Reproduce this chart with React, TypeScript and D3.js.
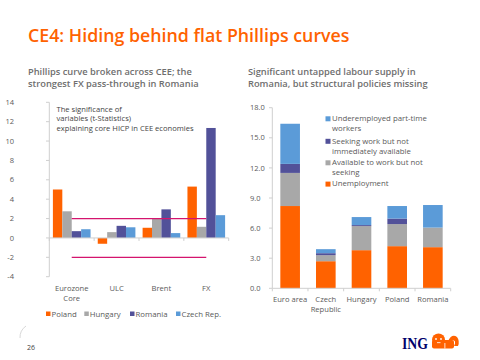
import React from "react";
import * as d3 from "d3";

// left chart: t-statistics
const factors = ["Eurozone Core", "ULC", "Brent", "FX"];
const countries = ["Poland", "Hungary", "Romania", "Czech Rep."];
const poland = [5.0, -0.6, 1.05, 5.3];
const hungary = [2.75, 0.6, 2.05, 1.15];
const romania = [0.7, 1.25, 2.95, 11.35];
const czech = [0.9, 1.1, 0.5, 2.35];
const thresholds = [2, -2];
const leftTicks = [-4, -2, 0, 2, 4, 6, 8, 10, 12, 14];

// right chart: labour slack
const regions = ["Euro area", "Czech Republic", "Hungary", "Poland", "Romania"];
const unemployment = [8.2, 2.7, 3.8, 4.2, 4.1];
const availableNotSeeking = [3.3, 0.6, 2.4, 2.2, 1.95];
const seekingNotAvailable = [0.9, 0.2, 0.1, 0.55, 0.0];
const underemployed = [4.0, 0.4, 0.8, 1.25, 2.25];
const rightTicks = [0, 3, 6, 9, 12, 15, 18];

const ORANGE = "#ff6200";
const GREY = "#a8a8a8";
const PURPLE = "#525199";
const BLUE = "#5b9bd8";
const TXT = "#5a5a5a";
const AXIS = "#cfcfcf";
const FONT = "'Open Sans', sans-serif";

const countryColors = [ORANGE, GREY, PURPLE, BLUE];
const seriesByCountry = [poland, hungary, romania, czech];

function LeftChart() {
  const x0 = d3.scaleBand<string>().domain(factors).range([49.3, 228.7]);
  const step = x0.step();
  const x1 = d3.scaleBand<string>().domain(countries).range([3.6, step - 3.6]);
  const y = d3.scaleLinear().domain([-4, 14]).range([276.7, 102.3]);
  const bounds = factors.map((f) => x0(f)!).concat([x0.range()[1]]);
  const lineX1 = x0(factors[0])! + step / 2;
  const lineX2 = x0(factors[factors.length - 1])! + step / 2;
  const legendX = [46, 84.3, 130, 176];
  return (
    <g fontFamily={FONT}>
      <line x1={49.3} x2={49.3} y1={y(14)} y2={y(-4)} stroke={AXIS} />
      {leftTicks.map((t) => (
        <g key={t}>
          <line x1={46} x2={49.3} y1={y(t)} y2={y(t)} stroke={AXIS} />
          <text x={14} y={y(t)} dy="0.35em" textAnchor="end" fontSize={7.5} fill={TXT}>
            {t}
          </text>
        </g>
      ))}
      {factors.map((f, i) => (
        <g key={f} transform={`translate(${x0(f)},0)`}>
          {countries.map((c, j) => {
            const v = seriesByCountry[j][i];
            return (
              <rect
                key={c}
                x={x1(c)}
                width={x1.bandwidth()}
                y={y(Math.max(0, v))}
                height={Math.abs(y(v) - y(0))}
                fill={countryColors[j]}
              />
            );
          })}
        </g>
      ))}
      <line x1={49.3} x2={228.7} y1={y(0)} y2={y(0)} stroke={AXIS} />
      {bounds.map((b, i) => (
        <line key={i} x1={b} x2={b} y1={y(0)} y2={y(0) + 3} stroke={AXIS} />
      ))}
      {thresholds.map((t) => (
        <line key={t} x1={lineX1} x2={lineX2} y1={y(t)} y2={y(t)} stroke="#d4146e" strokeWidth={1.2} />
      ))}
      {factors.map((f) => {
        const parts = f === "Eurozone Core" ? ["Eurozone", "Core"] : [f];
        return (
          <text key={f} x={x0(f)! + step / 2} y={291} textAnchor="middle" fontSize={7.6} fill={TXT}>
            {parts.map((p, k) => (
              <tspan key={k} x={x0(f)! + step / 2} dy={k === 0 ? 0 : 10}>
                {p}
              </tspan>
            ))}
          </text>
        );
      })}
      <text x={56.5} y={111.5} fontSize={7.6} fill="#444">
        <tspan x={56.5}>The significance of</tspan>
        <tspan x={56.5} dy={9.6}>variables (t-Statistics)</tspan>
        <tspan x={56.5} dy={9.6}>explaining core HICP in CEE economies</tspan>
      </text>
      {countries.map((c, j) => (
        <g key={c}>
          <rect x={legendX[j]} y={311.5} width={4.5} height={4.5} fill={countryColors[j]} />
          <text x={legendX[j] + 5.5} y={317} fontSize={7.8} fill={TXT}>
            {c}
          </text>
        </g>
      ))}
    </g>
  );
}

const stackKeys = ["unemployment", "available", "seeking", "underemployed"];
const stackColors = [ORANGE, GREY, PURPLE, BLUE];

function RightChart() {
  const rows = regions.map((r, i) => ({
    region: r,
    unemployment: unemployment[i],
    available: availableNotSeeking[i],
    seeking: seekingNotAvailable[i],
    underemployed: underemployed[i],
  }));
  const stacked = d3.stack<any>().keys(stackKeys)(rows);
  const x = d3
    .scaleBand<string>()
    .domain(regions)
    .range([272.3, 450.7])
    .paddingInner(0.45)
    .paddingOuter(0.225);
  const y = d3.scaleLinear().domain([0, 18]).range([288.3, 107.7]);
  const step = x.step();
  const bounds = regions.map((r) => x(r)! - step * 0.225).concat([450.7]);
  const legend = [
    { c: BLUE, lines: ["Underemployed part-time", "workers"], y: 121 },
    { c: PURPLE, lines: ["Seeking work but not", "immediately available"], y: 143.5 },
    { c: GREY, lines: ["Available to work but not", "seeking"], y: 165 },
    { c: ORANGE, lines: ["Unemployment"], y: 186.3 },
  ];
  return (
    <g fontFamily={FONT}>
      <line x1={272.3} x2={272.3} y1={y(18)} y2={y(0)} stroke={AXIS} />
      {rightTicks.map((t) => (
        <g key={t}>
          <line x1={269} x2={272.3} y1={y(t)} y2={y(t)} stroke={AXIS} />
          <text x={250} y={y(t)} dy="0.35em" fontSize={7.5} fill={TXT}>
            {d3.format(".1f")(t)}
          </text>
        </g>
      ))}
      {stacked.map((s, k) => (
        <g key={s.key} fill={stackColors[k]}>
          {s.map((d, i) => (
            <rect
              key={i}
              x={x(regions[i])}
              width={x.bandwidth()}
              y={y(d[1])}
              height={Math.max(0, y(d[0]) - y(d[1]))}
            />
          ))}
        </g>
      ))}
      <line x1={272.3} x2={450.7} y1={y(0)} y2={y(0)} stroke={AXIS} />
      {bounds.map((b, i) => (
        <line key={i} x1={b} x2={b} y1={y(0)} y2={y(0) + 3} stroke={AXIS} />
      ))}
      {regions.map((r) => {
        const cx = x(r)! + x.bandwidth() / 2;
        const parts = r === "Czech Republic" ? ["Czech", "Republic"] : [r];
        return (
          <text key={r} x={cx} y={301.5} textAnchor="middle" fontSize={7.6} fill={TXT}>
            {parts.map((p, k) => (
              <tspan key={k} x={cx} dy={k === 0 ? 0 : 10.3}>
                {p}
              </tspan>
            ))}
          </text>
        );
      })}
      {legend.map((l) => (
        <g key={l.lines[0]}>
          <rect x={325.5} y={l.y - 4.7} width={5} height={5} fill={l.c} />
          <text x={332} y={l.y} dy="0.05em" fontSize={7.8} fill={TXT}>
            {l.lines.map((ln, k) => (
              <tspan key={k} x={332} dy={k === 0 ? 0 : 10}>
                {ln}
              </tspan>
            ))}
          </text>
        </g>
      ))}
    </g>
  );
}

export default function App() {
  return (
    <svg
      width={480}
      height={360}
      style={{ position: "absolute", left: 0, top: 0, background: "#fff" }}
    >
      <rect width={480} height={360} fill="#fff" />
      <text x={28} y={41.5} fontFamily={FONT} fontWeight={600} fontSize={17.8} fill={ORANGE}>
        CE4: Hiding behind flat Phillips curves
      </text>
      <g fontFamily={FONT} fontWeight={600} fontSize={9.3} fill="#6e6e6e">
        <text x={28} y={75}>Phillips curve broken across CEE; the</text>
        <text x={28} y={87}>strongest FX pass-through in Romania</text>
        <text x={248} y={75}>Significant untapped labour supply in</text>
        <text x={248} y={87}>Romania, but structural policies missing</text>
      </g>
      <LeftChart />
      <RightChart />
      <path d="M26,326 A14,14 0 0 0 20,338" fill="none" stroke="#d8d8d8" strokeWidth={1} />
      <text x={27} y={350} fontFamily={FONT} fontSize={7} fill="#444">
        26
      </text>
      <text
        x={402}
        y={348.5}
        fontFamily="'Liberation Serif', serif"
        fontWeight={700}
        fontSize={16}
        fill="#00006a"
        textLength={26}
        lengthAdjust="spacingAndGlyphs"
      >
        ING
      </text>
      <g fill={ORANGE}>
        <ellipse cx={438.5} cy={339.5} rx={6.5} ry={6} />
        <rect x={432} y={340} width={22} height={8.5} rx={2} />
        <path d="M448,341 Q452,333 457,337 Q460,341 458,346 L454,346 Q457,340 452,340 Z" />
      </g>
      <g fill="#fff">
        <circle cx={436} cy={339} r={0.9} />
        <circle cx={441} cy={339} r={0.9} />
        <rect x={437} y={342.3} width={3.5} height={0.8} />
        <rect x={444.5} y={343} width={0.8} height={5.5} />
      </g>
    </svg>
  );
}
